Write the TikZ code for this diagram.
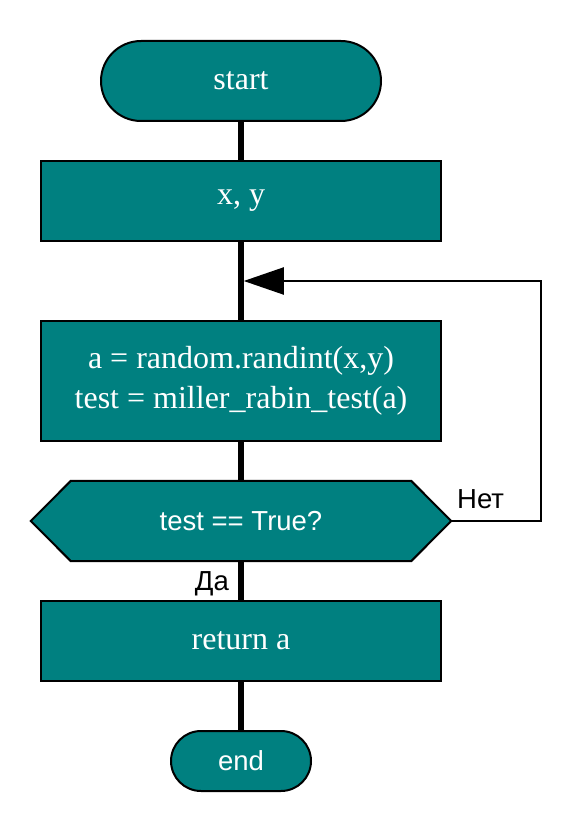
\documentclass[tikz,border=0pt]{standalone}
\usepackage{fontspec}
\setmainfont{Liberation Serif}
\newfontfamily\sansfam{Liberation Sans}
\usetikzlibrary{shapes.misc,arrows.meta,backgrounds}
\definecolor{teal}{HTML}{008080}
\tikzset{
  box/.style={draw=black, line width=2pt, fill=teal, text=white, minimum width=400pt, minimum height=80pt, inner sep=0pt, align=center, font=\fontsize{32}{40}\selectfont},
  term/.style={draw=black, line width=2pt, fill=teal, text=white, rounded rectangle, inner sep=0pt},
  flow/.style={line width=5.5pt},
  loopline/.style={line width=2pt},
  hexshape/.style={draw=black, fill=teal, line width=2pt, line join=miter},
  lbl/.style={inner sep=0pt, font=\sansfam\fontsize{27.5}{30}\selectfont}
}
\begin{document}
\begin{tikzpicture}[x=1pt,y=-1pt]
\useasboundingbox (0,0) rectangle (580,840);
\node[term, minimum width=280pt, minimum height=80pt, font=\fontsize{32}{36}\selectfont] (start) at (241,81) {start};
\node[box] (xy) at (241,201) {x, y};
\node[box, minimum height=120pt] (calc) at (241,381) {a = random.randint(x,y)\\test = miller\_rabin\_test(a)};
\node[inner sep=0pt, minimum width=420pt, minimum height=80pt, text=white, font=\sansfam\fontsize{27.5}{30}\selectfont] (hex) at (241,521) {test == True?};
\begin{scope}[on background layer]
\draw[hexshape] (hex.west) -- ([xshift=40pt]hex.north west) -- ([xshift=-40pt]hex.north east) -- (hex.east) -- ([xshift=-40pt]hex.south east) -- ([xshift=40pt]hex.south west) -- cycle;
\end{scope}
\node[box] (ret) at (241,641) {return a};
\node[term, minimum width=140pt, minimum height=60pt, font=\sansfam\fontsize{27.5}{30}\selectfont] (end) at (241,761) {end};
% connectors
\draw[flow] (start.south) -- (xy.north);
\draw[flow] (xy.south) -- (calc.north);
\draw[flow] (calc.south) -- (hex.north);
\draw[flow] (hex.south) -- (ret.north);
\draw[flow] (ret.south) -- (end.north);
\coordinate (jn) at (243.75,281);
\coordinate (corner) at (541,521);
\draw[loopline, -{Triangle[length=40pt,width=27pt]}] (hex.east) -- (corner) |- (jn);
\node[lbl, anchor=base west] (no) at (457,508) {Нет};
\node[lbl, anchor=base east] (yes) at (229,590) {Да};
\end{tikzpicture}
\end{document}
